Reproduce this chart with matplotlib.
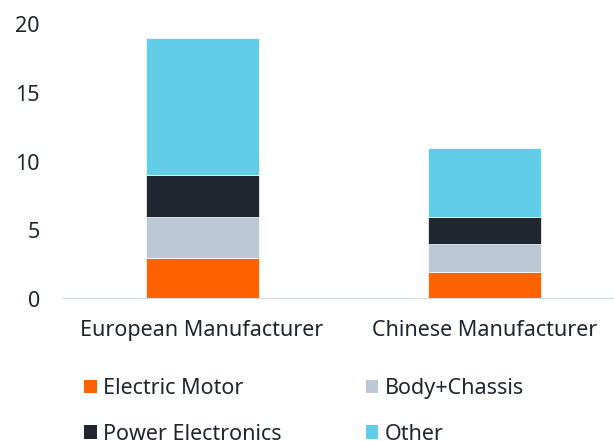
import matplotlib.pyplot as plt
from matplotlib.patches import Patch

plt.rcParams['font.family'] = ['Noto Sans', 'DejaVu Sans']

manufacturers = ["European Manufacturer", "Chinese Manufacturer"]
components = ["Electric Motor", "Body+Chassis", "Power Electronics", "Other"]
electric_motor = [3, 2]
body_chassis = [3, 2]
power_electronics = [3, 2]
other = [10, 5]
colors = ["#FF6200", "#BCC8D5", "#1F2630", "#62CDE8"]

text_color = "#1F2630"

fig = plt.figure(figsize=(6.14, 4.41), dpi=100)
ax = fig.add_axes([62 / 614, 1 - 299 / 441, 1 - 62 / 614, (299 - 24) / 441])

x = [0, 1]
bottom = [0, 0]
series = [electric_motor, body_chassis, power_electronics, other]
for vals, col in zip(series, colors):
    ax.bar(x, vals, width=0.4, bottom=bottom, color=col,
           edgecolor="white", linewidth=0.5, zorder=2)
    bottom = [b + v for b, v in zip(bottom, vals)]

ax.axhline(0, color="#D5DDE8", linewidth=1.5, zorder=3)
ax.set_ylim(0, 20)
ax.set_xlim(-0.496, 1.458)
ax.set_yticks([0, 5, 10, 15, 20])
ax.set_xticks(x)
ax.set_xticklabels(manufacturers)
for s in ax.spines.values():
    s.set_visible(False)
ax.tick_params(axis="y", length=0, pad=16, labelsize=15.5, labelcolor=text_color)
ax.tick_params(axis="x", length=0, pad=15, labelsize=15.5, labelcolor=text_color)

handles = [Patch(facecolor=c, edgecolor="none") for c in colors]
order = [0, 2, 1, 3]
fig.legend([handles[i] for i in order], [components[i] for i in order],
           ncol=2, loc="upper left", bbox_to_anchor=(84 / 614, 1 - 378 / 441),
           frameon=False, fontsize=15.5, handlelength=0.6, handleheight=0.6,
           handletextpad=0.28, columnspacing=3.9, labelspacing=1.15,
           borderpad=0, borderaxespad=0, labelcolor=text_color)

plt.savefig("out.png", dpi=100)
